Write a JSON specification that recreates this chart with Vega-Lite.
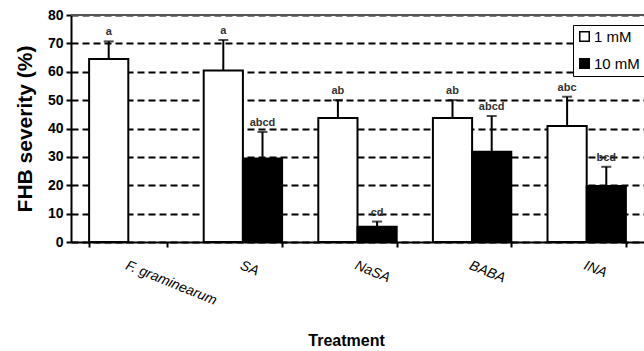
{
  "$schema": "https://vega.github.io/schema/vega-lite/v6.json",
  "width": 573,
  "height": 227,
  "autosize": "none",
  "padding": {"left": 71, "top": 15, "right": 0, "bottom": 109},
  "background": "white",
  "config": {
    "view": {"stroke": null},
    "font": "Liberation Sans",
    "axisY": {
      "tickCount": 8,
      "titleFontSize": 21,
      "titleFontWeight": "bold",
      "titleColor": "black",
      "titlePadding": 12,
      "labelFontSize": 14,
      "labelFontWeight": "bold",
      "labelColor": "black",
      "labelPadding": 3,
      "tickSize": 5,
      "tickColor": "black",
      "tickWidth": 2,
      "domainColor": "black",
      "domainWidth": 2,
      "grid": true,
      "gridColor": "black",
      "gridWidth": 2,
      "gridDash": [7, 4]
    }
  },
  "data": {
    "values": [
      {"Treatment": "F. graminearum", "Conc": "1 mM", "Severity": 64.5, "Upper": 70.7, "Letter": "a"},
      {"Treatment": "SA", "Conc": "1 mM", "Severity": 60.4, "Upper": 71.2, "Letter": "a"},
      {"Treatment": "SA", "Conc": "10 mM", "Severity": 29.4, "Upper": 38.8, "Letter": "abcd"},
      {"Treatment": "NaSA", "Conc": "1 mM", "Severity": 43.7, "Upper": 50.0, "Letter": "ab"},
      {"Treatment": "NaSA", "Conc": "10 mM", "Severity": 5.4, "Upper": 7.2, "Letter": "cd"},
      {"Treatment": "BABA", "Conc": "1 mM", "Severity": 43.7, "Upper": 50.0, "Letter": "ab"},
      {"Treatment": "BABA", "Conc": "10 mM", "Severity": 31.8, "Upper": 44.4, "Letter": "abcd"},
      {"Treatment": "INA", "Conc": "1 mM", "Severity": 40.9, "Upper": 51.2, "Letter": "abc"},
      {"Treatment": "INA", "Conc": "10 mM", "Severity": 19.7, "Upper": 26.5, "Letter": "bcd"}
    ]
  },
  "encoding": {
    "x": {
      "field": "Treatment",
      "type": "nominal",
      "sort": ["F. graminearum", "SA", "NaSA", "BABA", "INA"],
      "scale": {"paddingInner": 0.316, "paddingOuter": 0.158},
      "axis": {
        "title": "Treatment",
        "titleFontSize": 16,
        "titleFontWeight": "bold",
        "titleX": 275,
        "titleY": 98,
        "titleBaseline": "middle",
        "labelAngle": 22,
        "labelAlign": "left",
        "labelBaseline": "top",
        "labelFontStyle": "italic",
        "labelFontSize": 14,
        "labelColor": "black",
        "labelPadding": 11,
        "tickBand": "extent",
        "tickSize": 5,
        "tickColor": "black",
        "tickWidth": 2,
        "domainColor": "black",
        "domainWidth": 2
      }
    },
    "xOffset": {"field": "Conc", "type": "nominal", "scale": {"domain": ["1 mM", "10 mM"]}}
  },
  "layer": [
    {
      "mark": {"type": "rule", "color": "#555555", "strokeWidth": 2},
      "encoding": {"y": {"datum": 80, "type": "quantitative", "scale": {"domain": [0, 80]}, "axis": {"title": "FHB severity (%)"}}, "x": null, "xOffset": null}
    },
    {
      "mark": {"type": "bar", "stroke": "black", "strokeWidth": 2},
      "encoding": {
        "y": {"field": "Severity", "type": "quantitative", "scale": {"domain": [0, 80]}, "axis": {"title": "FHB severity (%)"}},
        "fill": {
          "field": "Conc",
          "type": "nominal",
          "scale": {"domain": ["1 mM", "10 mM"], "range": ["white", "black"]},
          "legend": {
            "title": null,
            "orient": "none",
            "legendX": 502,
            "legendY": 10,
            "symbolType": "square",
            "symbolSize": 90,
            "symbolStrokeColor": "black",
            "symbolStrokeWidth": 1.5,
            "labelFontSize": 15,
            "labelColor": "black",
            "labelOffset": 2,
            "fillColor": "white",
            "strokeColor": "black",
            "padding": 4,
            "rowPadding": 10
          }
        }
      }
    },
    {
      "mark": {"type": "rule", "color": "black", "strokeWidth": 2},
      "encoding": {
        "y": {"field": "Severity", "type": "quantitative", "axis": {"title": "FHB severity (%)"}},
        "y2": {"field": "Upper"}
      }
    },
    {
      "mark": {"type": "tick", "color": "black", "thickness": 2, "size": 10},
      "encoding": {"y": {"field": "Upper", "type": "quantitative", "axis": {"title": "FHB severity (%)"}}}
    },
    {
      "mark": {"type": "text", "fontSize": 11, "fontWeight": "bold", "color": "#333333", "dy": -4, "baseline": "bottom"},
      "encoding": {
        "y": {"field": "Upper", "type": "quantitative", "axis": {"title": "FHB severity (%)"}},
        "text": {"field": "Letter"}
      }
    }
  ]
}
